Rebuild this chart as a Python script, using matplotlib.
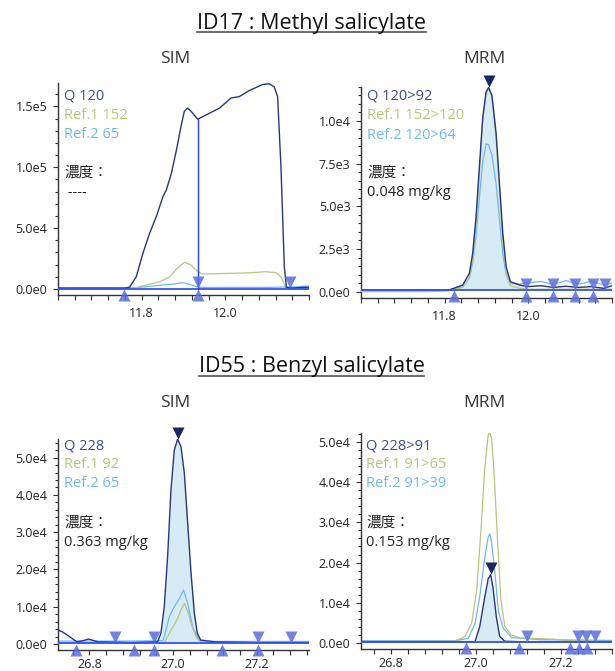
import numpy as np
import matplotlib
matplotlib.use("Agg")
import matplotlib.pyplot as plt
from matplotlib.ticker import FixedLocator, MultipleLocator, NullFormatter
from matplotlib.transforms import offset_copy
from matplotlib.lines import Line2D

plt.rcParams['font.family'] = ['Open Sans', 'Noto Sans CJK JP', 'DejaVu Sans']

W, H = 615, 671
fig = plt.figure(figsize=(W / 100, H / 100), dpi=100)


def fx(px):
    return px / W


def fy(py):
    return 1 - py / H


# ---------------- data ----------------
titles = ["ID17 : Methyl salicylate", "ID55 : Benzyl salicylate"]
modes = ["SIM", "MRM"]

# ID17 SIM
tl_q_x = [11.60, 11.70, 11.76, 11.771, 11.787, 11.803, 11.819, 11.835, 11.851, 11.859, 11.871,
          11.883, 11.894, 11.902, 11.910, 11.918, 11.934, 11.954, 11.986, 12.014, 12.033, 12.057,
          12.089, 12.105, 12.117, 12.125, 12.133, 12.141, 12.146, 12.16, 12.20]
tl_q_y = [800, 800, 800, 1400, 10000, 29300, 45800, 59500, 76000, 81400, 95000, 114000, 133500,
          146000, 148600, 146000, 139500, 143000, 148600, 157000, 158000, 163000, 168000, 168600,
          166000, 158000, 100000, 18300, 1400, 800, 1500]
tl_r1_x = [11.60, 11.70, 11.78, 11.811, 11.843, 11.867, 11.883, 11.902, 11.918, 11.934, 11.946,
           12.017, 12.06, 12.097, 12.121, 12.133, 12.145, 12.16, 12.20]
tl_r1_y = [-300, -300, 500, 3300, 6000, 10000, 16200, 22000, 19700, 14200, 12300, 12900, 13300,
           14200, 13400, 10000, 1000, 300, 300]
tl_r2_x = [11.60, 11.76, 11.80, 11.84, 11.87, 11.898, 11.915, 11.935, 11.96, 12.10, 12.17, 12.20]
tl_r2_y = [600, 700, 1500, 3000, 3800, 5200, 3800, 1500, 1200, 1300, 1800, 2500]

# ID17 MRM
tr_x = [11.60, 11.75, 11.81, 11.843, 11.859, 11.867, 11.875, 11.883, 11.891, 11.899, 11.905,
        11.913, 11.923, 11.931, 11.939, 11.947, 11.957, 11.979, 12.00, 12.03, 12.06, 12.09,
        12.12, 12.15, 12.18, 12.20]
tr_q_y = [100, 100, 100, 390, 1070, 2250, 4390, 7310, 10200, 11700, 11950, 11500, 9260, 6340,
          3420, 1460, 585, 390, 300, 350, 250, 320, 250, 300, 200, 350]
tr_r1_y = [0, 0, 50, 250, 800, 1900, 4000, 7000, 10000, 11600, 11900, 11400, 9000, 5900, 2900,
           1100, 350, 200, 150, 150, 150, 150, 150, 150, 150, 150]
tr_r2_y = [100, 100, 100, 300, 800, 1700, 3300, 5500, 7600, 8650, 8600, 8000, 6300, 4200, 2200,
           1000, 500, 450, 520, 600, 420, 650, 450, 600, 400, 500]

# ID55 SIM
bl_q_x = [26.725, 26.735, 26.747, 26.77, 26.785, 26.798, 26.82, 26.90, 26.963, 26.971, 26.979,
          26.987, 26.995, 27.003, 27.011, 27.019, 27.027, 27.035, 27.043, 27.051, 27.058, 27.066,
          27.10, 27.20, 27.325]
bl_q_y = [3750, 3300, 2400, 600, 900, 1340, 600, 400, 600, 2900, 10000, 23400, 41300, 52000,
          55000, 52900, 45800, 32400, 19000, 8200, 2900, 1070, 600, 400, 400]
bl_r1_x = [26.725, 26.90, 26.979, 26.987, 26.995, 27.003, 27.011, 27.019, 27.027, 27.035, 27.043,
           27.05, 27.058, 27.066, 27.20, 27.325]
bl_r1_y = [200, 200, 400, 2000, 3750, 5200, 6900, 9200, 10900, 8800, 5500, 3300, 1340, 600, 500, 500]
bl_r2_x = [26.725, 26.90, 26.975, 26.979, 26.991, 27.003, 27.015, 27.025, 27.035, 27.047, 27.062,
           27.08, 27.325]
bl_r2_y = [800, 800, 900, 1900, 7300, 10000, 12200, 14500, 10900, 4600, 1100, 700, 700]

# ID55 MRM
br_q_x = [26.73, 26.90, 26.998, 27.009, 27.021, 27.029, 27.035, 27.040, 27.048, 27.056, 27.068,
          27.10, 27.32]
br_q_y = [400, 400, 400, 4100, 11500, 16000, 17000, 14000, 6600, 1700, 500, 400, 400]
br_r1_x = [26.73, 26.95, 26.974, 26.990, 27.002, 27.013, 27.021, 27.029, 27.033, 27.037, 27.043,
           27.051, 27.059, 27.068, 27.084, 27.106, 27.186, 27.22, 27.32]
br_r1_y = [400, 500, 1600, 4900, 13100, 29600, 43500, 51700, 52100, 50900, 41900, 25400, 10700,
           4100, 2000, 1300, 1000, 600, 400]
br_r2_x = [26.73, 26.95, 26.982, 26.998, 27.009, 27.021, 27.029, 27.033, 27.037, 27.045, 27.053,
           27.064, 27.084, 27.15, 27.32]
br_r2_y = [600, 600, 1200, 4900, 11500, 21300, 26300, 27100, 25000, 17200, 7900, 3800, 1400, 900, 700]

# legend labels
tl_labels = ["Q 120", "Ref.1 152", "Ref.2 65"]
tr_labels = ["Q 120>92", "Ref.1 152>120", "Ref.2 120>64"]
bl_labels = ["Q 228", "Ref.1 92", "Ref.2 65"]
br_labels = ["Q 228>91", "Ref.1 91>65", "Ref.2 91>39"]
conc_label = "濃度："
tl_conc = " ----"
tr_conc = "0.048 mg/kg"
bl_conc = "0.363 mg/kg"
br_conc = "0.153 mg/kg"

# tick values / labels
tl_yticks = [0, 50000, 100000, 150000]
tl_yticklabels = ["0.0e0", "5.0e4", "1.0e5", "1.5e5"]
tr_yticks = [0, 2500, 5000, 7500, 10000]
tr_yticklabels = ["0.0e0", "2.5e3", "5.0e3", "7.5e3", "1.0e4"]
bl_yticks = [0, 10000, 20000, 30000, 40000, 50000]
bl_yticklabels = ["0.0e0", "1.0e4", "2.0e4", "3.0e4", "4.0e4", "5.0e4"]
br_yticks = bl_yticks
br_yticklabels = bl_yticklabels
top_xticks = [11.8, 12.0]
top_xticklabels = ["11.8", "12.0"]
bot_xticks = [26.8, 27.0, 27.2]
bot_xticklabels = ["26.8", "27.0", "27.2"]

# peak markers
tl_up = [11.758, 11.934]
tl_down = [11.934, 12.154]
tr_up = [11.822, 11.995, 12.058, 12.112, 12.154]
tr_down = [11.995, 12.058, 12.112, 12.154, 12.184]
bl_up = [26.769, 26.906, 26.954, 27.118, 27.202]
bl_down = [26.862, 26.954, 27.202, 27.281]
br_up = [26.976, 27.101, 27.221, 27.242, 27.261]
br_down = [27.12, 27.24, 27.26, 27.28]

# ---------------- style ----------------
C_Q = "#27367f"
C_QT = "#3c4b9c"
C_R1 = "#b5c77a"
C_R2 = "#70b6f7"
C_BASE = "#3152ff"
C_MARK = "#5a6de0"
C_APEX = "#1a2766"
C_FILL = "#d7ebf4"

panels = [
    dict(rect=(58, 83.3, 309, 294.7), xlim=(11.6, 12.2), ylim=(-4700, 169000),
         q=(tl_q_x, tl_q_y), r1=(tl_r1_x, tl_r1_y), r2=(tl_r2_x, tl_r2_y),
         yt=tl_yticks, ytl=tl_yticklabels, ymin=10000, xt=top_xticks, xtl=top_xticklabels,
         up=tl_up, down=tl_down, base=200, fill=None, apex=None, split=11.934, xpad=5,
         labels=tl_labels, conc=tl_conc, tx=64, tys=[100, 119, 138, 177, 196]),
    dict(rect=(361, 86.7, 612, 297.7), xlim=(11.6, 12.2), ylim=(-350, 12000),
         q=(tr_x, tr_q_y), r1=(tr_x, tr_r1_y), r2=(tr_x, tr_r2_y),
         yt=tr_yticks, ytl=tr_yticklabels, ymin=500, xt=top_xticks, xtl=top_xticklabels,
         up=tr_up, down=tr_down, base=100, fill=(11.822, 11.995), apex=11.905, split=None, xpad=5,
         labels=tr_labels, conc=tr_conc, tx=367, tys=[100, 119, 139, 177, 196]),
    dict(rect=(58, 439, 309, 650), xlim=(26.725, 27.325), ylim=(-1600, 55000),
         q=(bl_q_x, bl_q_y), r1=(bl_r1_x, bl_r1_y), r2=(bl_r2_x, bl_r2_y),
         yt=bl_yticks, ytl=bl_yticklabels, ymin=2000, xt=bot_xticks, xtl=bot_xticklabels,
         up=bl_up, down=bl_down, base=200, fill=(26.955, 27.118), apex=27.011, split=None, xpad=2,
         labels=bl_labels, conc=bl_conc, tx=64, tys=[449.3, 468.3, 487.3, 527, 545.7]),
    dict(rect=(361, 432.7, 612, 649.3), xlim=(26.73, 27.32), ylim=(-1500, 52200),
         q=(br_q_x, br_q_y), r1=(br_r1_x, br_r1_y), r2=(br_r2_x, br_r2_y),
         yt=br_yticks, ytl=br_yticklabels, ymin=2000, xt=bot_xticks, xtl=bot_xticklabels,
         up=br_up, down=br_down, base=300, fill=(26.976, 27.097), apex=27.035, split=None, xpad=2,
         labels=br_labels, conc=br_conc, tx=366, tys=[449.3, 468.3, 487.3, 527, 545.7]),
]

MS = 9.3

for p in panels:
    l, t, r, b = p["rect"]
    ax = fig.add_axes([fx(l), fy(b), (r - l) / W, (b - t) / H])
    ax.set_xlim(*p["xlim"])
    ax.set_ylim(*p["ylim"])
    for s in ("top", "right"):
        ax.spines[s].set_visible(False)
    for s in ("left", "bottom"):
        ax.spines[s].set_color("#333333")
        ax.spines[s].set_linewidth(1.0)
    ax.yaxis.set_major_locator(FixedLocator(p["yt"]))
    ax.set_yticklabels(p["ytl"])
    ax.yaxis.set_minor_locator(MultipleLocator(p["ymin"]))
    ax.xaxis.set_major_locator(FixedLocator(p["xt"]))
    ax.set_xticklabels(p["xtl"])
    ax.xaxis.set_minor_locator(MultipleLocator(0.04))
    ax.xaxis.set_minor_formatter(NullFormatter())
    ax.tick_params(axis="both", which="major", direction="out", length=3.6, width=0.8,
                   color="#333333", labelsize=9, labelcolor="#222222")
    ax.tick_params(axis="y", which="major", pad=4)
    ax.tick_params(axis="x", which="major", pad=p["xpad"])
    ax.tick_params(axis="y", which="minor", direction="out", length=2.0, width=0.8, color="#333333")
    ax.tick_params(axis="x", which="minor", direction="out", length=3.6, width=0.8, color="#333333")

    qx, qy = np.array(p["q"][0]), np.array(p["q"][1])
    base = p["base"]

    if p["fill"] is not None:
        f0, f1 = p["fill"]
        xs = np.linspace(f0, f1, 200)
        ys = np.interp(xs, qx, qy)
        ax.fill_between(xs, base, np.maximum(ys, base), color=C_FILL, lw=0, zorder=1)

    ax.plot(p["r2"][0], p["r2"][1], color=C_R2, lw=0.9, zorder=2)
    ax.plot(p["r1"][0], p["r1"][1], color=C_R1, lw=0.9, zorder=3)
    ax.plot(qx, qy, color=C_Q, lw=1.0, zorder=4)
    ax.axhline(base, color=C_BASE, lw=1.3, zorder=5)

    if p["split"] is not None:
        sx = p["split"]
        ax.plot([sx, sx], [base, np.interp(sx, qx, qy)], color="#2a3cff", lw=1.0, zorder=5)

    up_tr = offset_copy(ax.transData, fig=fig, y=-MS / 2, units="points")
    dn_tr = offset_copy(ax.transData, fig=fig, y=MS / 2, units="points")
    ax.plot(p["up"], [base] * len(p["up"]), linestyle="none", marker="^", ms=MS,
            color=C_MARK, alpha=0.85, mec="none", transform=up_tr, clip_on=False, zorder=6)
    ax.plot(p["down"], [base] * len(p["down"]), linestyle="none", marker="v", ms=MS,
            color=C_MARK, alpha=0.85, mec="none", transform=dn_tr, clip_on=False, zorder=6)
    if p["apex"] is not None:
        ay = np.interp(p["apex"], qx, qy)
        ax.plot([p["apex"]], [ay], linestyle="none", marker="v", ms=MS, color=C_APEX,
                mec="none", transform=dn_tr, clip_on=False, zorder=7)

    tx = p["tx"]
    tys = p["tys"]
    cols = [C_QT, C_R1, C_R2]
    for lab, col, yy in zip(p["labels"], cols, tys[:3]):
        fig.text(fx(tx), fy(yy), lab, color=col, fontsize=10.5, ha="left", va="baseline")
    fig.text(fx(tx), fy(tys[3]), conc_label, color="#222222", fontsize=10.5, ha="left",
             va="baseline")
    fig.text(fx(tx), fy(tys[4]), p["conc"], color="#222222", fontsize=10.5, ha="left",
             va="baseline")

# titles
title_objs = []
for ttl, yb in zip(titles, [28.5, 372.3]):
    title_objs.append((fig.text(fx(311.5), fy(yb), ttl, ha="center", va="baseline",
                                fontsize=15.5, color="#111111"), yb))
for yb in [63.3, 406.7]:
    fig.text(fx(175), fy(yb), modes[0], ha="center", va="baseline", fontsize=12.5, color="#333333")
    fig.text(fx(484.7), fy(yb), modes[1], ha="center", va="baseline", fontsize=12.5, color="#333333")

fig.canvas.draw()
rend = fig.canvas.get_renderer()
for tobj, yb in title_objs:
    bb = tobj.get_window_extent(rend)
    x0 = bb.x0 / (fig.get_figwidth() * fig.dpi)
    x1 = bb.x1 / (fig.get_figwidth() * fig.dpi)
    fig.add_artist(Line2D([x0, x1], [fy(yb + 3.5), fy(yb + 3.5)], transform=fig.transFigure,
                          color="#555555", lw=1.2))

fig.savefig("out.png", dpi=100)
